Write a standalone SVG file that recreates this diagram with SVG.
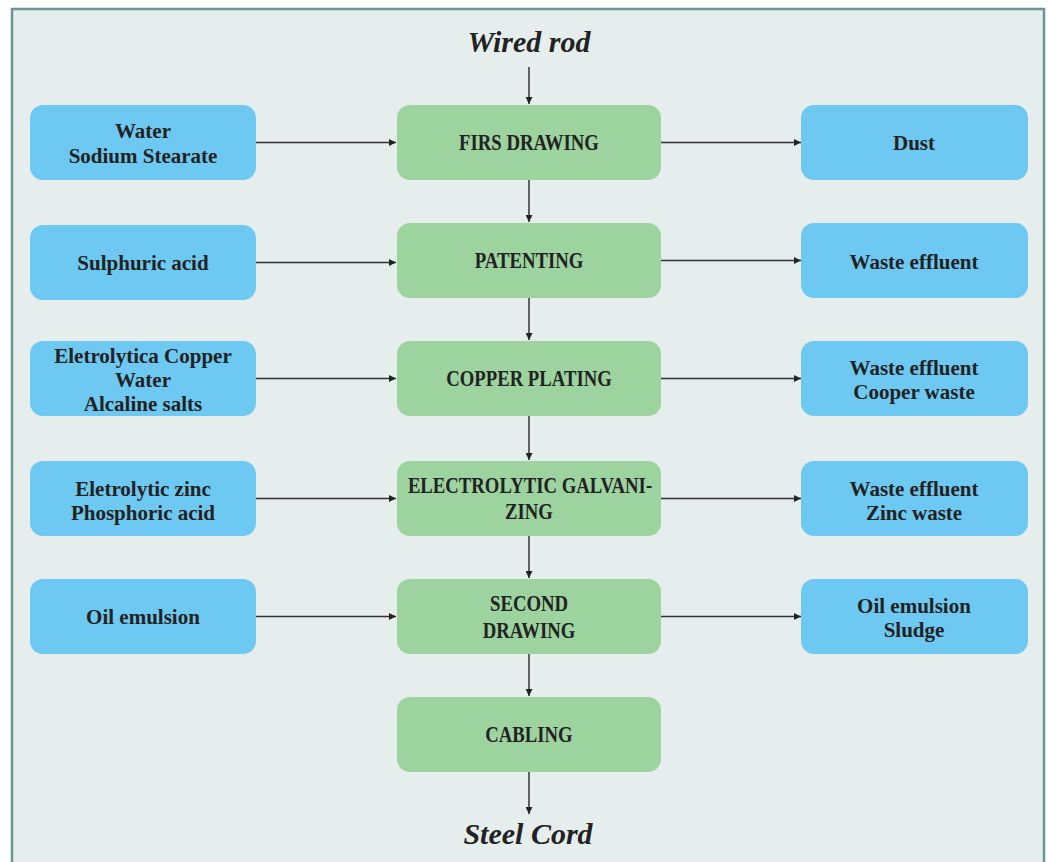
<svg xmlns="http://www.w3.org/2000/svg" width="1048" height="862" viewBox="0 0 1048 862">
<style>
.side{fill:#6dc9f2}
.proc{fill:#9dd39e}
.t{font-family:"Liberation Serif",serif;font-weight:bold;font-size:21px;fill:#222;text-anchor:middle;dominant-baseline:central}
.c{font-family:"Liberation Serif",serif;font-weight:bold;font-size:24px;fill:#222;text-anchor:middle;dominant-baseline:central}
.title{font-family:"Liberation Serif",serif;font-weight:bold;font-style:italic;font-size:30px;fill:#222;text-anchor:middle}
.ln{stroke:#333;stroke-width:1.5;fill:none;marker-end:url(#ah)}
</style>
<defs>
<marker id="ah" viewBox="0 0 10 10" refX="10" refY="5" markerWidth="7" markerHeight="7" markerUnits="userSpaceOnUse" orient="auto">
<path d="M0,0 L10,5 L0,10 Z" fill="#222"/>
</marker>
</defs>
<rect x="0" y="0" width="1048" height="862" fill="#ffffff"/>
<rect x="12" y="9" width="1032" height="870" fill="#e5eeed" stroke="#6f9593" stroke-width="2.5"/>

<text class="title" x="529" y="52">Wired rod</text>
<text class="title" x="528" y="844">Steel Cord</text>

<g id="connectors">
<line class="ln" x1="529" y1="67" x2="529" y2="104"/>
<line class="ln" x1="529" y1="180" x2="529" y2="222"/>
<line class="ln" x1="529" y1="298" x2="529" y2="340"/>
<line class="ln" x1="529" y1="416" x2="529" y2="460"/>
<line class="ln" x1="529" y1="536" x2="529" y2="578"/>
<line class="ln" x1="529" y1="654" x2="529" y2="696"/>
<line class="ln" x1="529" y1="772" x2="529" y2="814"/>
<line class="ln" x1="256" y1="142.5" x2="396" y2="142.5"/>
<line class="ln" x1="256" y1="262.5" x2="396" y2="262.5"/>
<line class="ln" x1="256" y1="378.5" x2="396" y2="378.5"/>
<line class="ln" x1="256" y1="498.5" x2="396" y2="498.5"/>
<line class="ln" x1="256" y1="616.5" x2="396" y2="616.5"/>
<line class="ln" x1="661" y1="142.5" x2="801" y2="142.5"/>
<line class="ln" x1="661" y1="260.5" x2="801" y2="260.5"/>
<line class="ln" x1="661" y1="378.5" x2="801" y2="378.5"/>
<line class="ln" x1="661" y1="498.5" x2="801" y2="498.5"/>
<line class="ln" x1="661" y1="616.5" x2="801" y2="616.5"/>
</g>

<g id="in1"><rect class="side" x="30" y="105" width="226" height="75" rx="13"/>
<text class="t" x="143" y="131">Water</text><text class="t" x="143" y="156">Sodium Stearate</text></g>
<g id="in2"><rect class="side" x="30" y="225" width="226" height="75" rx="13"/>
<text class="t" x="143" y="263">Sulphuric acid</text></g>
<g id="in3"><rect class="side" x="30" y="341" width="226" height="75" rx="13"/>
<text class="t" x="143" y="356">Eletrolytica Copper</text><text class="t" x="143" y="380">Water</text><text class="t" x="143" y="404">Alcaline salts</text></g>
<g id="in4"><rect class="side" x="30" y="461" width="226" height="75" rx="13"/>
<text class="t" x="143" y="489">Eletrolytic zinc</text><text class="t" x="143" y="513">Phosphoric acid</text></g>
<g id="in5"><rect class="side" x="30" y="579" width="226" height="75" rx="13"/>
<text class="t" x="143" y="617">Oil emulsion</text></g>

<g id="p1"><rect class="proc" x="397" y="105" width="264" height="75" rx="13"/>
<text class="c" transform="translate(529 142) scale(0.78 1)">FIRS DRAWING</text></g>
<g id="p2"><rect class="proc" x="397" y="223" width="264" height="75" rx="13"/>
<text class="c" transform="translate(529 260) scale(0.78 1)">PATENTING</text></g>
<g id="p3"><rect class="proc" x="397" y="341" width="264" height="75" rx="13"/>
<text class="c" transform="translate(529 378) scale(0.78 1)">COPPER PLATING</text></g>
<g id="p4"><rect class="proc" x="397" y="461" width="264" height="75" rx="13"/>
<text class="c" transform="translate(530 485) scale(0.78 1)">ELECTROLYTIC GALVANI-</text>
<text class="c" transform="translate(529 511) scale(0.78 1)">ZING</text></g>
<g id="p5"><rect class="proc" x="397" y="579" width="264" height="75" rx="13"/>
<text class="c" transform="translate(529 603) scale(0.78 1)">SECOND</text>
<text class="c" transform="translate(529 630) scale(0.78 1)">DRAWING</text></g>
<g id="p6"><rect class="proc" x="397" y="697" width="264" height="75" rx="13"/>
<text class="c" transform="translate(529 734) scale(0.78 1)">CABLING</text></g>

<g id="out1"><rect class="side" x="801" y="105" width="227" height="75" rx="13"/>
<text class="t" x="914" y="143">Dust</text></g>
<g id="out2"><rect class="side" x="801" y="223" width="227" height="75" rx="13"/>
<text class="t" x="914" y="262">Waste effluent</text></g>
<g id="out3"><rect class="side" x="801" y="341" width="227" height="75" rx="13"/>
<text class="t" x="914" y="368">Waste effluent</text><text class="t" x="914" y="392">Cooper waste</text></g>
<g id="out4"><rect class="side" x="801" y="461" width="227" height="75" rx="13"/>
<text class="t" x="914" y="489">Waste effluent</text><text class="t" x="914" y="513">Zinc waste</text></g>
<g id="out5"><rect class="side" x="801" y="579" width="227" height="75" rx="13"/>
<text class="t" x="914" y="606">Oil emulsion</text><text class="t" x="914" y="630">Sludge</text></g>
</svg>
